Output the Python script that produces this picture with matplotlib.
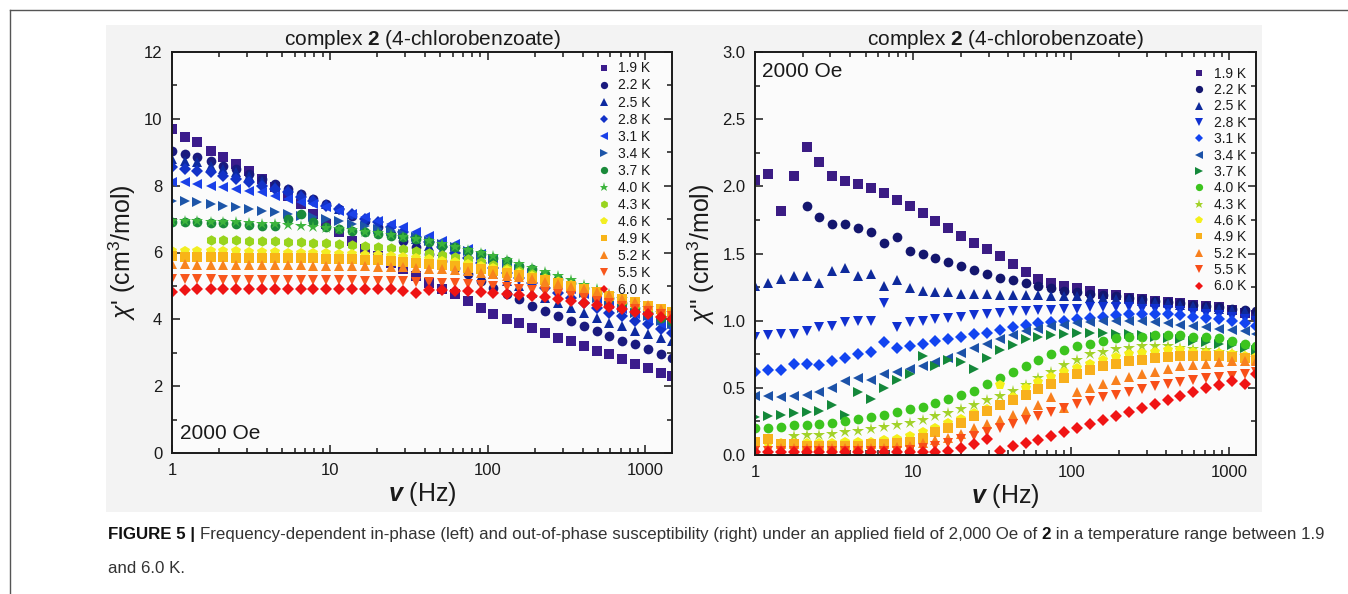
import numpy as np
import matplotlib
matplotlib.use("Agg")
import matplotlib.pyplot as plt
from matplotlib.ticker import MultipleLocator, LogLocator, NullFormatter, FixedLocator, FixedFormatter
from matplotlib.patches import Rectangle
from matplotlib.lines import Line2D
from matplotlib import font_manager

nan = np.nan

# ---------------- data ----------------
freq = [1.00, 1.21, 1.45, 1.76, 2.12, 2.55, 3.08, 3.72, 4.49, 5.41,
        6.53, 7.88, 9.51, 11.5, 13.8, 16.7, 20.1, 24.3, 29.3, 35.4,
        42.7, 51.5, 62.1, 75.0, 90.5, 109, 132, 159, 192, 232,
        279, 337, 407, 491, 592, 715, 862, 1040, 1255, 1480]

temps = ["1.9 K", "2.2 K", "2.5 K", "2.8 K", "3.1 K", "3.4 K", "3.7 K",
         "4.0 K", "4.3 K", "4.6 K", "4.9 K", "5.2 K", "5.5 K", "6.0 K"]

# in-phase chi' (left)
in_19 = [9.70, 9.45, 9.30, 9.05, 8.85, 8.65, 8.45, 8.20, 7.95, 7.70, 7.45, 7.15, 6.85, 6.60, 6.35, 6.10, 5.90, 5.70, 5.50, 5.30, 5.10, 4.90, 4.75, 4.55, 4.35, 4.15, 4.00, 3.90, 3.75, 3.60, 3.45, 3.35, 3.20, 3.05, 2.95, 2.80, 2.65, 2.55, 2.40, 2.30]
in_22 = [9.05, 8.95, 8.85, 8.75, 8.60, 8.50, 8.35, 8.20, 8.05, 7.90, 7.75, 7.60, 7.45, 7.30, 7.10, 6.95, 6.75, 6.55, 6.35, 6.15, 5.95, 5.75, 5.55, 5.35, 5.15, 4.95, 4.75, 4.60, 4.40, 4.25, 4.10, 3.95, 3.80, 3.65, 3.50, 3.35, 3.25, 3.10, 2.95, 2.85]
in_25 = [8.80, 8.75, 8.70, 8.60, 8.50, 8.40, 8.30, 8.15, 8.00, 7.90, 7.75, 7.60, 7.45, 7.30, 7.15, 7.00, 6.85, 6.70, 6.55, 6.40, 6.20, 6.05, 5.85, 5.70, 5.50, 5.35, 5.15, 5.00, 4.80, 4.65, 4.50, 4.35, 4.20, 4.05, 3.90, 3.80, 3.65, 3.55, 3.45, 3.35]
in_28 = [8.55, 8.50, 8.45, 8.40, 8.30, 8.20, 8.10, 8.00, 7.90, 7.80, 7.65, 7.55, 7.40, 7.30, 7.15, 7.00, 6.90, 6.75, 6.60, 6.45, 6.30, 6.15, 6.00, 5.85, 5.70, 5.55, 5.40, 5.25, 5.10, 4.95, 4.80, 4.65, 4.50, 4.35, 4.20, 4.10, 3.95, 3.85, 3.70, 3.60]
in_31 = [8.10, 8.10, 8.05, 8.00, 7.95, 7.90, 7.85, 7.80, 7.70, 7.60, 7.50, 7.45, 7.35, 7.25, 7.15, 7.05, 6.95, 6.85, 6.75, 6.60, 6.50, 6.35, 6.25, 6.10, 5.95, 5.80, 5.65, 5.50, 5.35, 5.20, 5.05, 4.90, 4.75, 4.60, 4.45, 4.30, 4.15, 4.00, 3.85, 3.75]
in_34 = [7.55, 7.55, 7.50, 7.45, 7.40, 7.35, 7.30, 7.25, 7.20, 7.15, 7.10, 7.05, 7.00, 6.95, 6.85, 6.80, 6.70, 6.65, 6.55, 6.45, 6.35, 6.25, 6.15, 6.05, 5.90, 5.80, 5.65, 5.50, 5.40, 5.25, 5.10, 4.95, 4.80, 4.65, 4.50, 4.35, 4.20, 4.10, 3.95, 3.85]
in_37 = [6.90, 6.90, 6.90, 6.88, 6.87, 6.85, 6.82, 6.80, 6.78, 7.00, 7.15, 6.90, 6.75, 6.70, 6.65, 6.60, 6.55, 6.50, 6.45, 6.40, 6.30, 6.20, 6.15, 6.05, 5.95, 5.85, 5.75, 5.60, 5.50, 5.35, 5.20, 5.10, 4.95, 4.80, 4.65, 4.50, 4.35, 4.20, 4.05, 3.95]
in_40 = [6.95, 6.95, 6.93, 6.92, 6.90, 6.90, 6.88, 6.86, 6.84, 6.82, 6.80, 6.77, 6.74, 6.70, 6.66, 6.62, 6.57, 6.52, 6.46, 6.40, 6.33, 6.25, 6.17, 6.08, 5.99, 5.89, 5.78, 5.67, 5.55, 5.42, 5.30, 5.17, 5.03, 4.90, 4.76, 4.62, 4.48, 4.33, 4.18, 4.05]
in_43 = [nan, nan, nan, 6.38, 6.37, 6.36, 6.35, 6.34, 6.33, 6.32, 6.30, 6.29, 6.27, 6.25, 6.22, 6.20, 6.17, 6.13, 6.09, 6.04, 5.99, 5.93, 5.87, 5.80, 5.72, 5.64, 5.55, 5.46, 5.36, 5.25, 5.14, 5.03, 4.91, 4.79, 4.67, 4.55, 4.43, 4.31, 4.19, 4.10]
in_46 = [6.05, 6.05, 6.04, 6.04, 6.03, 6.03, 6.02, 6.02, 6.01, 6.00, 6.00, 5.99, 5.98, 5.97, 5.96, 5.94, 5.92, 5.90, 5.87, 5.84, 5.80, 5.76, 5.71, 5.66, 5.60, 5.54, 5.47, 5.39, 5.31, 5.22, 5.13, 5.03, 4.93, 4.82, 4.71, 4.60, 4.49, 4.38, 4.27, 4.18]
in_49 = [5.90, 5.88, 5.87, 5.86, 5.86, 5.85, 5.85, 5.85, 5.84, 5.84, 5.83, 5.83, 5.82, 5.81, 5.80, 5.79, 5.77, 5.75, 5.73, 5.70, 5.67, 5.64, 5.60, 5.55, 5.50, 5.45, 5.39, 5.32, 5.25, 5.17, 5.09, 5.00, 4.91, 4.81, 4.71, 4.61, 4.51, 4.41, 4.30, 4.22]
in_52 = [5.65, 5.65, 5.64, 5.64, 5.64, 5.63, 5.63, 5.63, 5.62, 5.62, 5.62, 5.61, 5.61, 5.60, 5.60, 5.59, 5.58, 5.57, 5.56, 5.54, 5.52, 5.50, 5.47, 5.44, 5.40, 5.36, 5.31, 5.26, 5.20, 5.13, 5.06, 4.98, 4.90, 4.81, 4.72, 4.62, 4.52, 4.42, 4.31, 4.22]
in_55 = [5.20, 5.20, 5.20, 5.20, 5.19, 5.19, 5.19, 5.19, 5.18, 5.18, 5.18, 5.18, 5.17, 5.17, 5.17, 5.16, 5.16, 5.15, 5.14, 5.13, 5.12, 5.10, 5.08, 5.06, 5.03, 5.00, 4.96, 4.92, 4.87, 4.82, 4.76, 4.70, 4.63, 4.56, 4.48, 4.40, 4.32, 4.24, 4.16, 4.10]
in_60 = [4.82, 4.88, 4.90, 4.92, 4.92, 4.92, 4.92, 4.92, 4.92, 4.92, 4.92, 4.92, 4.92, 4.92, 4.92, 4.91, 4.91, 4.90, 4.85, 4.78, 4.88, 4.87, 4.86, 4.84, 4.82, 4.80, 4.77, 4.74, 4.70, 4.66, 4.61, 4.56, 4.50, 4.44, 4.37, 4.30, 4.22, 4.15, 4.07, 4.00]

# out-of-phase chi'' (right)
out_19 = [2.05, 2.09, 1.82, 2.08, 2.29, 2.18, 2.08, 2.04, 2.02, 1.99, 1.95, 1.90, 1.85, 1.80, 1.74, 1.69, 1.63, 1.58, 1.53, 1.48, 1.42, 1.36, 1.31, 1.28, 1.26, 1.24, 1.22, 1.20, 1.19, 1.17, 1.16, 1.15, 1.14, 1.13, 1.12, 1.11, 1.10, 1.08, 1.06, 1.04]
out_22 = [nan, nan, nan, nan, 1.85, 1.77, 1.72, 1.72, 1.69, 1.66, 1.58, 1.62, 1.52, 1.50, 1.47, 1.44, 1.41, 1.38, 1.35, 1.32, 1.30, 1.28, 1.26, 1.24, 1.22, 1.21, 1.20, 1.19, 1.18, 1.17, 1.16, 1.15, 1.14, 1.13, 1.12, 1.11, 1.10, 1.09, 1.08, 1.07]
out_25 = [1.26, 1.28, 1.31, 1.33, 1.33, 1.28, 1.37, 1.39, 1.33, 1.35, 1.26, 1.30, 1.24, 1.22, 1.21, 1.21, 1.20, 1.20, 1.20, 1.19, 1.19, 1.19, 1.19, 1.18, 1.18, 1.18, 1.17, 1.17, 1.16, 1.16, 1.15, 1.14, 1.13, 1.12, 1.11, 1.10, 1.09, 1.08, 1.07, 1.05]
out_28 = [0.88, 0.89, 0.90, 0.90, 0.92, 0.95, 0.96, 0.99, 1.00, 1.00, 1.13, 0.95, 0.99, 1.00, 1.01, 1.02, 1.03, 1.04, 1.05, 1.06, 1.07, 1.07, 1.08, 1.08, 1.09, 1.09, 1.10, 1.10, 1.10, 1.10, 1.09, 1.09, 1.08, 1.07, 1.06, 1.05, 1.04, 1.03, 1.01, 1.00]
out_31 = [0.62, 0.63, 0.63, 0.68, 0.68, 0.67, 0.70, 0.72, 0.75, 0.77, 0.84, 0.80, 0.81, 0.83, 0.85, 0.86, 0.88, 0.90, 0.91, 0.93, 0.95, 0.97, 0.98, 0.99, 1.00, 1.01, 1.02, 1.03, 1.04, 1.05, 1.05, 1.05, 1.05, 1.04, 1.03, 1.02, 1.01, 1.00, 0.98, 0.96]
out_34 = [0.44, 0.44, 0.43, 0.44, 0.45, 0.47, 0.50, 0.55, 0.57, 0.56, 0.60, 0.62, 0.64, 0.66, 0.69, 0.72, 0.76, 0.80, 0.83, 0.86, 0.89, 0.92, 0.94, 0.96, 0.97, 0.98, 0.99, 1.00, 1.00, 1.00, 1.00, 0.99, 0.98, 0.97, 0.96, 0.95, 0.94, 0.93, 0.92, 0.90]
out_37 = [0.28, 0.29, 0.30, 0.31, 0.32, 0.33, 0.37, 0.30, 0.47, 0.42, 0.50, 0.56, 0.60, 0.74, 0.66, 0.71, 0.69, 0.64, 0.72, 0.78, 0.82, 0.86, 0.88, 0.89, 0.90, 0.91, 0.91, 0.91, 0.90, 0.90, 0.89, 0.88, 0.87, 0.86, 0.85, 0.84, 0.83, 0.82, 0.80, 0.78]
out_40 = [0.20, 0.20, 0.21, 0.22, 0.22, 0.23, 0.24, 0.25, 0.27, 0.28, 0.30, 0.32, 0.34, 0.36, 0.39, 0.42, 0.45, 0.48, 0.53, 0.57, 0.62, 0.66, 0.71, 0.75, 0.78, 0.81, 0.83, 0.85, 0.87, 0.88, 0.88, 0.89, 0.89, 0.89, 0.88, 0.88, 0.87, 0.85, 0.83, 0.81]
out_43 = [nan, nan, nan, 0.14, 0.15, 0.15, 0.16, 0.17, 0.18, 0.19, 0.21, 0.22, 0.24, 0.26, 0.29, 0.31, 0.34, 0.37, 0.41, 0.44, 0.48, 0.52, 0.57, 0.62, 0.67, 0.71, 0.75, 0.77, 0.79, 0.80, 0.81, 0.81, 0.81, 0.80, 0.79, 0.78, 0.77, 0.76, 0.74, 0.72]
out_46 = [0.10, 0.09, 0.09, 0.09, 0.09, 0.09, 0.09, 0.10, 0.10, 0.10, 0.11, 0.12, 0.14, 0.17, 0.20, 0.24, 0.27, 0.31, 0.34, 0.52, 0.43, 0.50, 0.54, 0.58, 0.62, 0.65, 0.68, 0.71, 0.73, 0.75, 0.76, 0.77, 0.78, 0.78, 0.77, 0.76, 0.76, 0.75, 0.74, 0.73]
out_49 = [0.10, 0.12, 0.08, 0.08, 0.07, 0.07, 0.07, 0.07, 0.07, 0.08, 0.08, 0.09, 0.10, 0.13, 0.17, 0.20, 0.24, 0.29, 0.33, 0.37, 0.41, 0.45, 0.49, 0.53, 0.57, 0.60, 0.63, 0.66, 0.68, 0.70, 0.71, 0.72, 0.73, 0.74, 0.74, 0.74, 0.74, 0.73, 0.72, 0.71]
out_52 = [0.05, 0.05, 0.05, 0.05, 0.05, 0.05, 0.05, 0.05, 0.05, 0.05, 0.05, 0.06, 0.07, 0.09, 0.11, 0.13, 0.16, 0.20, 0.23, 0.26, 0.30, 0.33, 0.37, 0.43, 0.35, 0.47, 0.50, 0.53, 0.56, 0.58, 0.60, 0.62, 0.64, 0.66, 0.67, 0.68, 0.69, 0.70, 0.70, 0.70]
out_55 = [0.03, 0.03, 0.03, 0.03, 0.03, 0.03, 0.03, 0.03, 0.03, 0.03, 0.03, 0.03, 0.04, 0.05, 0.07, 0.09, 0.12, 0.14, 0.17, 0.20, 0.23, 0.26, 0.29, 0.32, 0.35, 0.38, 0.40, 0.43, 0.45, 0.47, 0.49, 0.51, 0.53, 0.54, 0.56, 0.57, 0.58, 0.59, 0.60, 0.62]
out_60 = [0.02, 0.02, 0.02, 0.02, 0.02, 0.02, 0.02, 0.02, 0.02, 0.02, 0.02, 0.02, 0.02, 0.02, 0.02, 0.03, 0.05, 0.08, 0.12, 0.03, 0.07, 0.09, 0.11, 0.14, 0.17, 0.20, 0.23, 0.26, 0.29, 0.32, 0.35, 0.38, 0.41, 0.44, 0.47, 0.50, 0.52, 0.55, 0.53, 0.60]

in_series = [in_19, in_22, in_25, in_28, in_31, in_34, in_37, in_40, in_43, in_46, in_49, in_52, in_55, in_60]
out_series = [out_19, out_22, out_25, out_28, out_31, out_34, out_37, out_40, out_43, out_46, out_49, out_52, out_55, out_60]

colors_left = ['#3b1c8c', '#1a1a7e', '#0d2aa0', '#1232c8', '#1a40e8', '#1d55a8', '#1a8a3a',
               '#3cb43c', '#98d41e', '#f2ee22', '#f8b418', '#f8841e', '#f8561c', '#ee1414']
markers_left = ['s', 'o', '^', 'D', '<', '>', 'o', '*', 'h', 'p', 's', '^', 'v', 'D']
colors_right = ['#3b1c84', '#14166e', '#0e2a9c', '#1030d0', '#1244f0', '#1c52a8', '#14883a',
                '#3cc41e', '#a2d22a', '#f4f01a', '#f8b01c', '#f8801e', '#f84e18', '#f01414']
markers_right = ['s', 'o', '^', 'v', 'D', '<', '>', 'o', '*', 'p', 's', '^', 'v', 'D']

# ---------------- style ----------------
FONT = 'Liberation Sans'
plt.rcParams['font.family'] = [FONT, 'DejaVu Sans']
plt.rcParams['mathtext.fontset'] = 'custom'
plt.rcParams['mathtext.rm'] = FONT
plt.rcParams['mathtext.it'] = FONT + ':italic'
plt.rcParams['mathtext.bf'] = FONT + ':bold'
try:
    plt.rcParams['mathtext.bfit'] = FONT + ':italic:bold'
    HAVE_BFIT = True
except Exception:
    HAVE_BFIT = False

W, H = 1348, 594
fig = plt.figure(figsize=(W / 100, H / 100), dpi=100)
fig.patch.set_facecolor('white')

# light grey image area (behind the axes)
bg = Rectangle((106 / W, 1 - 512 / H), (1262 - 106) / W, (512 - 25) / H,
               transform=fig.transFigure, facecolor='#f3f3f3', edgecolor='none', zorder=-10)
fig.patches.append(bg)
# page frame lines
fig.lines.append(Line2D([10 / W, 1.0], [1 - 10 / H, 1 - 10 / H], transform=fig.transFigure,
                        color='#555555', lw=1.0, zorder=-5))
fig.lines.append(Line2D([10 / W, 10 / W], [0.0, 1 - 10 / H], transform=fig.transFigure,
                        color='#555555', lw=1.0, zorder=-5))


def px_axes(x0, x1, ytop, ybot):
    return fig.add_axes([x0 / W, 1 - ybot / H, (x1 - x0) / W, (ybot - ytop) / H], zorder=5)


axL = px_axes(172, 672, 52, 453)
axR = px_axes(755, 1256, 52, 455)

ms_map = {'D': 6.0, '*': 9.0, 'h': 7.5, 'p': 7.5, 'o': 7.0, 's': 6.5, '^': 7.5, 'v': 7.5, '<': 7.5, '>': 7.5}

panels = [(axL, in_series, colors_left, markers_left, (0.958, 0.9765), 0.22),
          (axR, out_series, colors_right, markers_right, (0.981, 0.9635), 0.17)]
for ax, series, cols, mks, anchor, lsp in panels:
    ax.set_facecolor('#fbfbfb')
    for ys, c, m, lab in zip(series, cols, mks, temps):
        ax.plot(freq, ys, linestyle='none', marker=m, color=c, markersize=ms_map[m],
                markeredgewidth=0, label=lab, clip_on=True)
    ax.set_xscale('log')
    ax.set_xlim(1, 1475)
    ax.xaxis.set_major_locator(FixedLocator([1, 10, 100, 1000]))
    ax.xaxis.set_major_formatter(FixedFormatter(['1', '10', '100', '1000']))
    ax.xaxis.set_minor_locator(LogLocator(base=10, subs=np.arange(2, 10)))
    ax.xaxis.set_minor_formatter(NullFormatter())
    ax.tick_params(which='both', direction='in', top=True, right=True, labelsize=12,
                   colors='#1a1a1a', width=1.1)
    ax.tick_params(which='major', length=6, pad=7)
    ax.tick_params(which='minor', length=3.5)
    for sp in ax.spines.values():
        sp.set_linewidth(1.4)
        sp.set_color('#1a1a1a')
    leg = ax.legend(loc='upper right', bbox_to_anchor=anchor, frameon=False, fontsize=10,
                    handletextpad=0.55, labelspacing=lsp, borderaxespad=0.0, borderpad=0.0,
                    handlelength=1.0, markerscale=0.75)
    for t in leg.get_texts():
        t.set_color('#1a1a1a')

axL.set_ylim(0, 12)
axL.yaxis.set_major_locator(MultipleLocator(2))
axL.yaxis.set_minor_locator(MultipleLocator(1))
axR.set_ylim(0, 3.0)
axR.yaxis.set_major_locator(MultipleLocator(0.5))
axR.yaxis.set_minor_locator(MultipleLocator(0.25))
axR.yaxis.set_major_formatter(matplotlib.ticker.FormatStrFormatter('%.1f'))

xlab = r'$\mathbfit{v}$ (Hz)' if HAVE_BFIT else r'$\mathbf{v}$ (Hz)'
for ax in (axL, axR):
    ax.set_xlabel(xlab, fontsize=18, labelpad=2, color='#1a1a1a')
    ax.set_title(r'complex $\mathbf{2}$ (4-chlorobenzoate)', fontsize=15, pad=5, color='#1a1a1a')

axL.set_ylabel(r"$\chi$' (cm$^{3}$/mol)", fontsize=18, labelpad=4, color='#1a1a1a')
axR.set_ylabel(r"$\chi$'' (cm$^{3}$/mol)", fontsize=18, labelpad=4, color='#1a1a1a')

axL.text(0.016, 0.025, '2000 Oe', transform=axL.transAxes, fontsize=15, ha='left', va='bottom', color='#1a1a1a')
axR.text(0.014, 0.975, '2000 Oe', transform=axR.transAxes, fontsize=15, ha='left', va='top', color='#1a1a1a')

# ---------------- caption ----------------
names = {f.name for f in font_manager.fontManager.ttflist}
cap_font = 'Liberation Sans Narrow' if 'Liberation Sans Narrow' in names else FONT
renderer = fig.canvas.get_renderer()

line1 = [("FIGURE 5 | ", 'bold', '#111111'),
         ("Frequency-dependent in-phase (left) and out-of-phase susceptibility (right) under an applied field of 2,000 Oe of ", 'normal', '#333333'),
         ("2", 'bold', '#111111'),
         (" in a temperature range between 1.9", 'normal', '#333333')]
line2 = [("and 6.0 K.", 'normal', '#333333')]


def measure(pieces, size):
    tot = 0
    for s, w, c in pieces:
        t = fig.text(0, 0, s, fontsize=size, fontweight=w, family=cap_font)
        tot += t.get_window_extent(renderer).width
        t.remove()
    return tot


size0 = 10.0
wid = measure(line1, size0)
cap_size = size0 * (1318 - 108) / wid


def draw_line(pieces, x, ybase):
    for s, w, c in pieces:
        t = fig.text(x / W, 1 - ybase / H, s, fontsize=cap_size, fontweight=w, family=cap_font,
                     color=c, ha='left', va='baseline')
        x += t.get_window_extent(renderer).width


draw_line(line1, 108, 539)
draw_line(line2, 108, 573)

fig.savefig('out.png', dpi=100)
